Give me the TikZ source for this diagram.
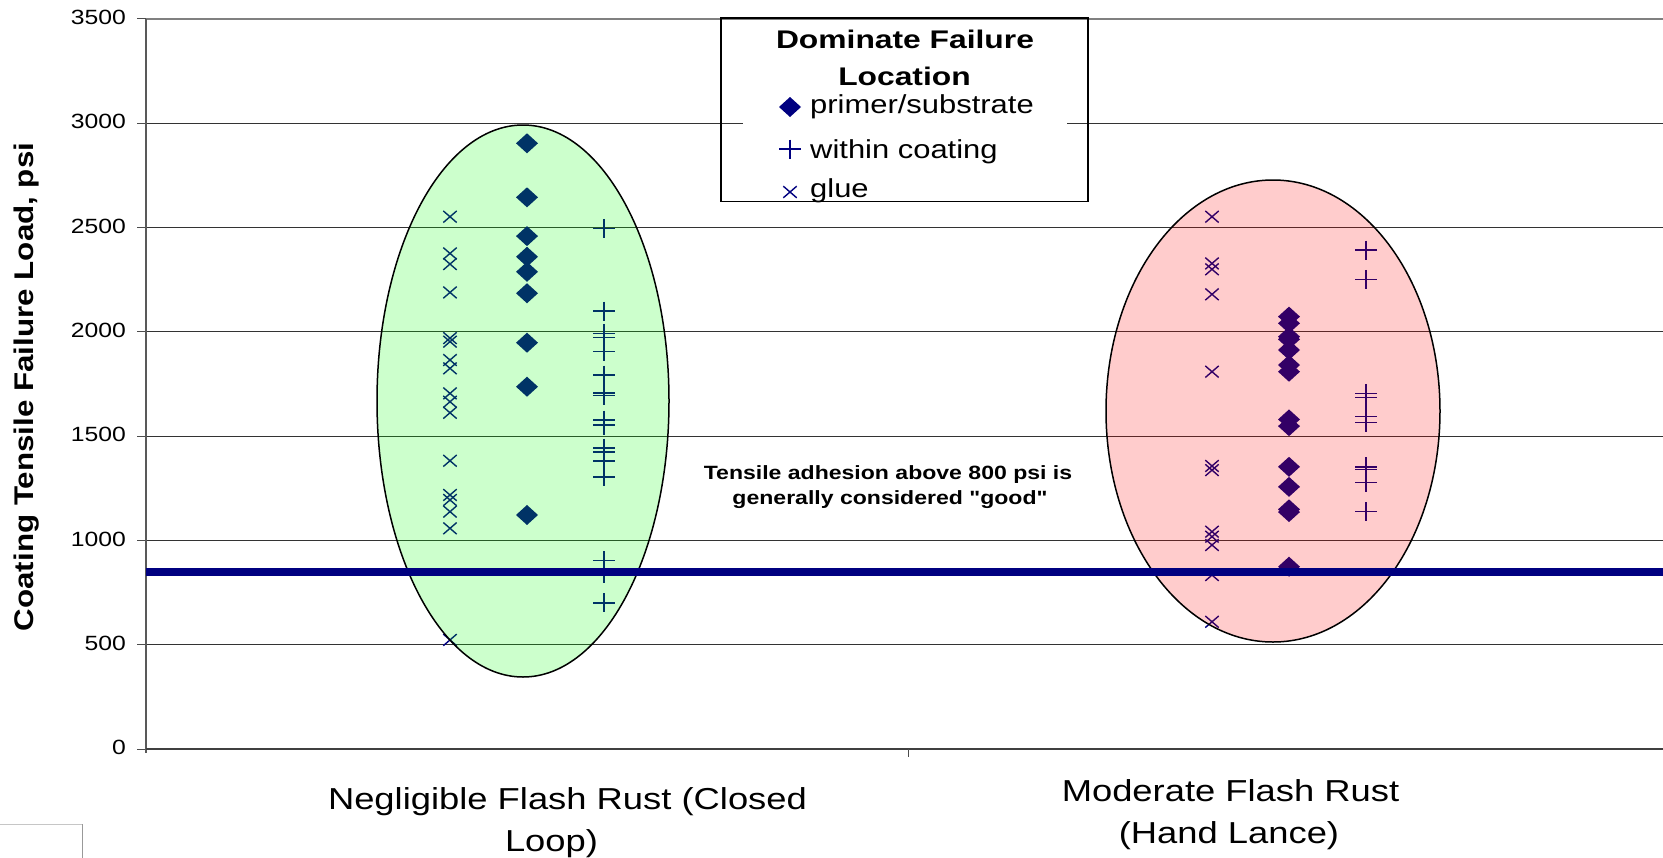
\documentclass[tikz,border=0pt]{standalone}
\usepackage{fontspec}
\setmainfont{Liberation Sans}
\usepackage{graphicx}
\definecolor{navy}{HTML}{000080}
% horizontally widened text
\newcommand\widetxt[2]{\scalebox{#1}[1]{#2}}

\tikzset{
  gridline/.style={black!80, line width=1},
  axisline/.style={black!65, line width=1.5},
  ticklbl/.style={font=\fontsize{20.6}{24}\selectfont, inner sep=0, anchor=east},
  catlbl/.style={font=\fontsize{30.3}{36}\selectfont, inner sep=0, anchor=base},
  notelbl/.style={font=\bfseries\fontsize{19.2}{23}\selectfont\addfontfeatures{Ligatures=TeXOff}, inner sep=0, anchor=base},
  legtitle/.style={font=\bfseries\fontsize{25.5}{30}\selectfont, inner sep=0, anchor=base},
  legitem/.style={font=\fontsize{26}{30}\selectfont, inner sep=0, anchor=base west},
  diamondmark/.pic={\fill[navy] (-11,0) -- (0,-10) -- (11,0) -- (0,10) -- cycle;},
  plusmark/.pic={\draw[navy, line width=1.5] (-11,0) -- (11,0) (0,-9.5) -- (0,9.5);},
  crossmark/.pic={\draw[navy, line width=1.4] (-6.7,-5.8) -- (6.7,5.8) (-6.7,5.8) -- (6.7,-5.8);},
}

\begin{document}
\begin{tikzpicture}[x=1pt, y=-1pt]
\useasboundingbox (0,0) rectangle (1663,857);

% horizontal gridlines and value axis
\foreach \v in {500,1000,...,3000} {
  \pgfmathsetmacro\yy{749-\v*0.208571}
  \draw[gridline] (146,\yy) -- (1663,\yy);
}
\draw[gray, line width=1.2] (146,19) -- (1663,19);
\foreach \v in {0,500,...,3500} {
  \pgfmathsetmacro\yy{749-\v*0.208571}
  \draw[black!70, line width=1] (137,\yy) -- (146,\yy);
  \node[ticklbl] (t\v) at (126,\yy-1.5) {\widetxt{1.2}{\v}};
}
\draw[axisline] (146,19) -- (146,753);
\draw[black!75, line width=1.5] (146,749) -- (1663,749);
\draw[black!70, line width=1] (908,749) -- (908,757);

% glue failures
\foreach \v in {2552,2376,2325,2189,1970,1953,1865,1825,1705,1665,1612,1382,1218,1194,1138,1058,523} {
  \pgfmathsetmacro\yy{749-\v*0.208571}
  \pic at (450,\yy) {crossmark};
}
\foreach \v in {2552,2328,2300,2180,1809,1357,1337,1042,1018,978,834,610} {
  \pgfmathsetmacro\yy{749-\v*0.208571}
  \pic at (1212,\yy) {crossmark};
}
% primer/substrate failures
\foreach \v in {2904,2645,2459,2360,2288,2185,1948,1737,1122} {
  \pgfmathsetmacro\yy{749-\v*0.208571}
  \pic at (527,\yy) {diamondmark};
}
\foreach \v in {2073,2041,1977,1964,1913,1841,1809,1580,1548,1353,1257,1149,1136,874} {
  \pgfmathsetmacro\yy{749-\v*0.208571}
  \pic at (1289,\yy) {diamondmark};
}
% failures within the coating
\foreach \v in {2496,2100,1993,1973,1905,1793,1708,1695,1577,1553,1442,1425,1382,1305,903,841,701} {
  \pgfmathsetmacro\yy{749-\v*0.208571}
  \pic at (604,\yy) {plusmark};
}
\foreach \v in {2392,2252,1705,1686,1594,1566,1353,1341,1277,1138} {
  \pgfmathsetmacro\yy{749-\v*0.208571}
  \pic at (1366,\yy) {plusmark};
}

% grouping ellipses
\draw[black, line width=1.5, fill=green, fill opacity=0.2] (523,401) ellipse [x radius=146pt, y radius=276pt];
\draw[black, line width=1.5, fill=red, fill opacity=0.2] (1273,411) ellipse [x radius=167pt, y radius=231pt];

% acceptance threshold
\draw[navy, line width=7.5] (146,572) -- (1663,572);

\node[notelbl] (n1) at (888,479) {\widetxt{1.2}{Tensile adhesion above 800 psi is}};
\node[notelbl] (n2) at (890,504) {\widetxt{1.2}{generally considered "good"}};

% legend
\fill[white] (743,20) rectangle (1067,200);
\draw[black, line width=1.5] (721,18) rectangle (1088,201.5);
\node[legtitle] (lt1) at (905,48.3) {\widetxt{1.247}{Dominate Failure}};
\node[legtitle] (lt2) at (904.5,85) {\widetxt{1.247}{Location}};
\pic at (790,107) {diamondmark};
\pic at (790,149) {plusmark};
\pic at (790,192) {crossmark};
\node[legitem] (l1) at (810,113) {\widetxt{1.19}{primer/substrate}};
\node[legitem] (l2) at (810,158) {\widetxt{1.19}{within coating}};
\node[legitem] (l3) at (810,197) {\widetxt{1.19}{glue}};

% axis titles and category labels
\node[rotate=90, inner sep=0, font=\bfseries\fontsize{27}{32}\selectfont] (ytitle) at (27,387)
  {\widetxt{1.16}{Coating Tensile Failure Load, psi}};
\node[catlbl] (c1a) at (567.5,809) {\widetxt{1.2}{Negligible Flash Rust (Closed}};
\node[catlbl] (c1b) at (551.5,851) {\widetxt{1.2}{Loop)}};
\node[catlbl] (c2a) at (1230.5,801.7) {\widetxt{1.2}{Moderate Flash Rust}};
\node[catlbl] (c2b) at (1229,843.5) {\widetxt{1.2}{(Hand Lance)}};

% small frame in the lower left corner
\draw[gray!45, line width=1] (-2,824) -- (82,824);
\draw[gray!80, line width=1] (82,824) -- (82,860);
\end{tikzpicture}
\end{document}
